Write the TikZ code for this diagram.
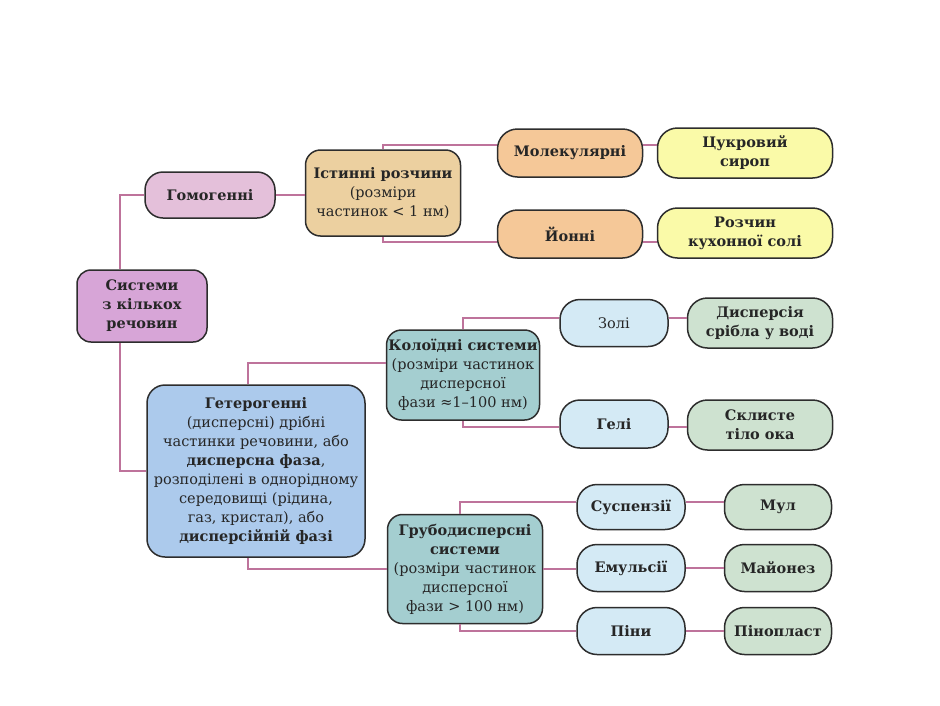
\documentclass[tikz,border=0pt]{standalone}
\usepackage{fontspec}
\setmainfont{DejaVu Serif}
\definecolor{bordc}{RGB}{45,45,45}
\definecolor{linec}{RGB}{190,115,155}
\definecolor{cSys}{RGB}{215,165,215}
\definecolor{cHom}{RGB}{228,192,218}
\definecolor{cIst}{RGB}{236,208,160}
\definecolor{cPeach}{RGB}{245,200,152}
\definecolor{cYel}{RGB}{250,250,168}
\definecolor{cHet}{RGB}{172,202,236}
\definecolor{cTeal}{RGB}{164,206,208}
\definecolor{cPale}{RGB}{212,234,245}
\definecolor{cGreen}{RGB}{206,226,208}
\tikzset{
  box/.style={draw=bordc, line width=1.5pt, align=center, inner sep=0pt,
    font=\fontsize{14.5}{19}\selectfont, text=black!85},
  conn/.style={draw=linec, line width=1.4pt},
}
\begin{document}
\begin{tikzpicture}[x=1pt,y=-1pt]
\useasboundingbox (0,0) rectangle (940,705);
\fill[white] (0,0) rectangle (940,705);
% nodes
\node[box, fill=cSys, minimum width=130pt, minimum height=72pt, rounded corners=14pt] (sys) at (142,306) {\textbf{Системи}\\\textbf{з кількох}\\\textbf{речовин}};
\node[box, fill=cHom, minimum width=130pt, minimum height=46pt, rounded corners=18pt] (hom) at (210,195) {\textbf{Гомогенні}};
\node[box, fill=cIst, minimum width=155pt, minimum height=86pt, rounded corners=15pt] (ist) at (383,193) {\textbf{Істинні розчини}\\(розміри\\частинок < 1 нм)};
\node[box, fill=cPeach, minimum width=145pt, minimum height=48pt, rounded corners=20pt] (mol) at (570,153) {\textbf{Молекулярні}};
\node[box, fill=cYel, minimum width=175pt, minimum height=50pt, rounded corners=20pt] (syr) at (745,153) {\textbf{Цукровий}\\\textbf{сироп}};
\node[box, fill=cPeach, minimum width=145pt, minimum height=48pt, rounded corners=20pt] (ion) at (570,234) {\textbf{Йонні}};
\node[box, fill=cYel, minimum width=175pt, minimum height=50pt, rounded corners=20pt] (salt) at (745,233) {\textbf{Розчин}\\\textbf{кухонної солі}};
\node[box, fill=cHet, minimum width=218pt, minimum height=172pt, rounded corners=18pt] (het) at (256,471) {\textbf{Гетерогенні}\\(дисперсні) дрібні\\частинки речовини, або\\\textbf{дисперсна фаза},\\розподілені в однорідному\\середовищі (рідина,\\газ, кристал), або\\\textbf{дисперсійній фазі}};
\node[box, fill=cTeal, minimum width=153pt, minimum height=90pt, rounded corners=15pt] (col) at (463,375) {\textbf{Колоїдні системи}\\(розміри частинок\\дисперсної\\фази ≈1–100 нм)};
\node[box, fill=cPale, minimum width=108pt, minimum height=47pt, rounded corners=20pt] (zol) at (614,323) {Золі};
\node[box, fill=cGreen, minimum width=145pt, minimum height=50pt, rounded corners=20pt] (silver) at (760,323) {\textbf{Дисперсія}\\\textbf{срібла у воді}};
\node[box, fill=cPale, minimum width=108pt, minimum height=48pt, rounded corners=20pt] (gel) at (614,424) {\textbf{Гелі}};
\node[box, fill=cGreen, minimum width=145pt, minimum height=50pt, rounded corners=20pt] (eye) at (760,425) {\textbf{Склисте}\\\textbf{тіло ока}};
\node[box, fill=cTeal, minimum width=155pt, minimum height=109pt, rounded corners=15pt] (grub) at (465,569) {\textbf{Грубодисперсні}\\\textbf{системи}\\(розміри частинок\\дисперсної\\фази > 100 нм)};
\node[box, fill=cPale, minimum width=108pt, minimum height=45pt, rounded corners=20pt] (susp) at (631,507) {\textbf{Суспензії}};
\node[box, fill=cGreen, minimum width=107pt, minimum height=45pt, rounded corners=20pt] (mul) at (778,507) {\textbf{Мул}};
\node[box, fill=cPale, minimum width=108pt, minimum height=47pt, rounded corners=20pt] (emul) at (631,568) {\textbf{Емульсії}};
\node[box, fill=cGreen, minimum width=107pt, minimum height=47pt, rounded corners=20pt] (may) at (778,568) {\textbf{Майонез}};
\node[box, fill=cPale, minimum width=108pt, minimum height=47pt, rounded corners=20pt] (pin) at (631,631) {\textbf{Піни}};
\node[box, fill=cGreen, minimum width=107pt, minimum height=47pt, rounded corners=20pt] (pinopl) at (778,631) {\textbf{Пінопласт}};
% connectors
\path[conn] ([xshift=-22pt]sys.north) |- (hom.west);
\path[conn] ([xshift=-22pt]sys.south) |- (het.west);
\path[conn] (hom.east) -- (hom.east -| ist.west);
\path[conn] (ist.north) |- ([yshift=8pt]mol.west);
\path[conn] ([yshift=8pt]mol.east) -- ([yshift=8pt]mol.east -| syr.west);
\path[conn] (ist.south) |- ([yshift=-8pt]ion.west);
\path[conn] ([yshift=-8pt]ion.east) -- ([yshift=-8pt]ion.east -| salt.west);
\path[conn] ([xshift=-8pt]het.north) |- ([yshift=12pt]col.west);
\path[conn] (col.north) |- ([yshift=5pt]zol.west);
\path[conn] ([yshift=5pt]zol.east) -- ([yshift=5pt]zol.east -| silver.west);
\path[conn] (col.south) |- ([yshift=-3pt]gel.west);
\path[conn] ([yshift=-3pt]gel.east) -- ([yshift=-3pt]gel.east -| eye.west);
\path[conn] ([xshift=-8pt]het.south) |- (grub.west);
\path[conn] ([xshift=-5pt]grub.north) |- ([yshift=5pt]susp.west);
\path[conn] ([yshift=5pt]susp.east) -- ([yshift=5pt]susp.east -| mul.west);
\path[conn] (grub.east) -- (grub.east -| emul.west);
\path[conn] (emul.east) -- (may.west);
\path[conn] ([xshift=-5pt]grub.south) |- (pin.west);
\path[conn] (pin.east) -- (pinopl.west);
\end{tikzpicture}
\end{document}
